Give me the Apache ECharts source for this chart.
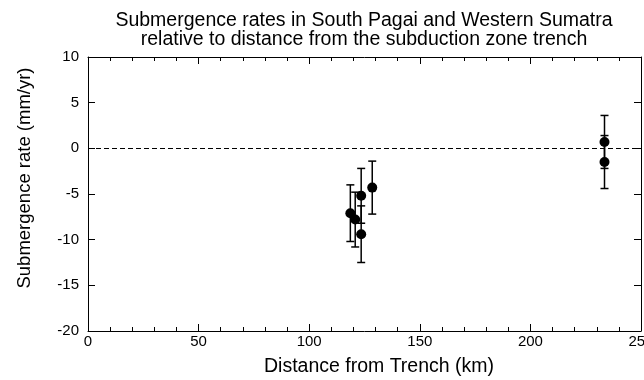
<!DOCTYPE html>
<html>
<head>
<meta charset="utf-8">
<script src="https://cdn.jsdelivr.net/npm/echarts@6/dist/echarts.min.js"></script>
<style>
  html, body { margin: 0; padding: 0; background: #fff; }
  #chart { width: 644px; height: 380px; }
</style>
</head>
<body>
<div id="chart"></div>
<script>
// distance from trench (km), submergence rate (mm/yr), and error (mm/yr)
const distances = [118.6, 120.8, 123.5, 123.5, 128.5, 233.5, 233.5];
const rates = [-7.1, -7.8, -5.2, -9.4, -4.3, 0.7, -1.5];
const errors = [3.1, 3.0, 3.0, 3.1, 2.9, 2.9, 2.9];

const xTicks = [0, 50, 100, 150, 200, 250];
const yTicks = [-20, -15, -10, -5, 0, 5, 10];

const fontFamily = "'Liberation Sans', Arial, sans-serif";

function initChart() {
    const chart = echarts.init(document.getElementById("chart"));

    const points = distances.map((d, i) => [d, rates[i]]);
    const bars = distances.map((d, i) => [d, rates[i] - errors[i], rates[i] + errors[i]]);

    const baseX = {
        min: xTicks[0],
        max: xTicks[xTicks.length - 1],
        interval: 50,
        axisLine: { show: true, onZero: false, lineStyle: { color: "#000", width: 1 } },
        axisTick: { show: true, inside: true, length: 7, lineStyle: { color: "#000" } },
        minorTick: { show: true, splitNumber: 5, length: 4, lineStyle: { color: "#000" } },
        splitLine: { show: false }
    };
    const baseY = {
        min: yTicks[0],
        max: yTicks[yTicks.length - 1],
        interval: 5,
        axisLine: { show: true, onZero: false, lineStyle: { color: "#000", width: 1 } },
        axisTick: { show: true, inside: true, length: 7, lineStyle: { color: "#000" } },
        splitLine: { show: false }
    };

    chart.setOption({
        animation: false,
        backgroundColor: "#fff",
        textStyle: { fontFamily: fontFamily, color: "#000" },
        grid: { left: 88, right: 3, top: 57, bottom: 49, outerBoundsMode: "none" },
        graphic: [
            {
                type: "text",
                x: 364,
                y: 11,
                style: {
                    text: "Submergence rates in South Pagai and Western Sumatra\nrelative to distance from the subduction zone trench",
                    font: "19.5px " + fontFamily,
                    fill: "#000",
                    align: "center",
                    lineHeight: 19
                }
            },
            {
                type: "text",
                x: 25,
                y: 178,
                rotation: Math.PI / 2,
                style: {
                    text: "Submergence rate (mm/yr)",
                    font: "18.5px " + fontFamily,
                    fill: "#000",
                    align: "center",
                    verticalAlign: "middle"
                }
            },
            {
                type: "text",
                x: 379,
                y: 367,
                style: {
                    text: "Distance from Trench (km)",
                    font: "19.5px " + fontFamily,
                    fill: "#000",
                    align: "center",
                    verticalAlign: "middle"
                }
            }
        ],
        xAxis: [
            Object.assign({}, baseX, {
                type: "value",
                position: "bottom",
                axisLabel: { color: "#000", fontSize: 15, margin: 3, fontFamily: fontFamily }
            }),
            Object.assign({}, baseX, {
                type: "value",
                position: "top",
                axisLabel: { show: false }
            })
        ],
        yAxis: [
            Object.assign({}, baseY, {
                type: "value",
                position: "left",
                axisLabel: { color: "#000", fontSize: 15, margin: 9, fontFamily: fontFamily }
            }),
            Object.assign({}, baseY, {
                type: "value",
                position: "right",
                axisLabel: { show: false }
            })
        ],
        series: [
            {
                type: "custom",
                xAxisIndex: 0,
                yAxisIndex: 0,
                data: bars,
                renderItem: (params, api) => {
                    const x = api.value(0);
                    const lo = api.coord([x, api.value(1)]);
                    const hi = api.coord([x, api.value(2)]);
                    const cap = 4;
                    const style = { stroke: "#000", lineWidth: 1.5 };
                    return {
                        type: "group",
                        children: [
                            { type: "line", shape: { x1: lo[0], y1: lo[1], x2: hi[0], y2: hi[1] }, style: style },
                            { type: "line", shape: { x1: lo[0] - cap, y1: lo[1], x2: lo[0] + cap, y2: lo[1] }, style: style },
                            { type: "line", shape: { x1: hi[0] - cap, y1: hi[1], x2: hi[0] + cap, y2: hi[1] }, style: style }
                        ]
                    };
                }
            },
            {
                type: "scatter",
                xAxisIndex: 0,
                yAxisIndex: 0,
                data: points,
                symbol: "circle",
                symbolSize: 10,
                itemStyle: { color: "#000", opacity: 1 },
                markLine: {
                    silent: true,
                    symbol: "none",
                    label: { show: false },
                    lineStyle: { color: "#000", width: 1.2, type: [5, 3], opacity: 1 },
                    data: [{ yAxis: 0 }]
                }
            }
        ]
    });
}

document.addEventListener("DOMContentLoaded", initChart);
</script>
</body>
</html>
